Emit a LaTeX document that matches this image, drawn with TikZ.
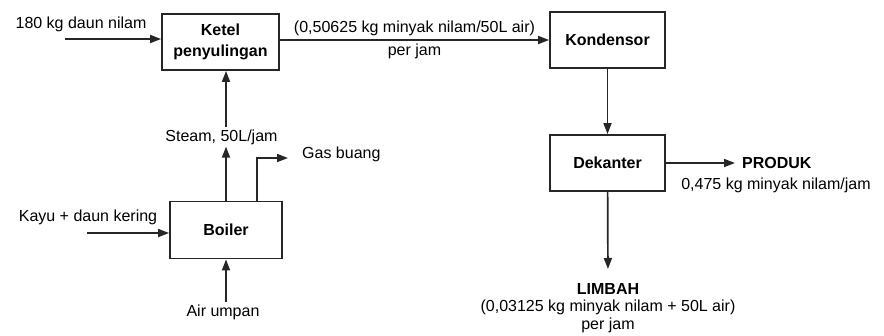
\documentclass[tikz,border=0pt]{standalone}
\usepackage{fontspec}
\setmainfont{Liberation Sans}
\usetikzlibrary{arrows.meta,positioning,calc}

\begin{document}
\begin{tikzpicture}[x=1pt,y=-1pt,font=\fontsize{16}{19}\selectfont,
  box/.style={draw=black!85,line width=1.8pt,align=center,inner sep=3pt,font=\fontsize{16}{21}\selectfont\bfseries},
  lab/.style={align=center,inner sep=2pt},
  flow/.style={->,line width=1.7pt,draw=black!85},
  >={Triangle[length=11pt,width=8pt]}]
  \useasboundingbox (0,0) rectangle (884,335);
  % units
  \node[box,minimum width=117pt,minimum height=56pt] (ketel) at (220.5,42) {Ketel\\penyulingan};
  \node[box,minimum width=115pt,minimum height=56pt] (kond) at (607.5,40) {Kondensor};
  \node[box,minimum width=115pt,minimum height=56pt] (dek) at (607.5,163) {Dekanter};
  \node[box,minimum width=112pt,minimum height=57pt] (boiler) at (226,230) {Boiler};
  % labels
  \node[lab] (daun) at (81,24) {180 kg daun nilam};
  \node[lab] (kayu) at (88,217) {Kayu + daun kering};
  \node[lab] (steam) at (221.5,137) {Steam, 50L/jam};
  \node[lab,anchor=base west] (gas) at (300,158) {Gas buang};
  \node[lab] (air) at (223,312) {Air umpan};
  \node[lab,anchor=west,font=\fontsize{16}{19}\selectfont\bfseries] (produk) at (740,163) {PRODUK};
  \node[lab] (produkq) at (776,185) {0,475 kg minyak nilam/jam};
  \node[lab,anchor=north,font=\fontsize{16}{17.5}\selectfont] (limbah) at (608,281) {\textbf{LIMBAH}\\(0,03125 kg minyak nilam + 50L air)\\per jam};
  \coordinate (daunin) at (65,39);
  \coordinate (kayuin) at (87,233);
  % streams
  \draw[flow] (daunin) -- (daunin -| ketel.west);
  \draw[flow] (ketel.east |- kond.west) -- node[above,lab,yshift=1pt]{(0,50625 kg minyak nilam/50L air)} node[below,lab,yshift=-1pt]{per jam} (kond.west);
  \draw[flow] (kond) -- (dek);
  \draw[flow,shorten >=5pt] (dek) -- (produk.west);
  \draw[flow,shorten >=12pt] (dek) -- (limbah.north);
  \draw[flow] (kayuin) -- (kayuin -| boiler.west);
  \draw[flow] (boiler.south |- air.north) -- (boiler.south);
  \draw[flow] (boiler.north) -- (boiler.north |- steam.south);
  \draw[flow] (boiler.north |- steam.north) -- (boiler.north |- ketel.south);
  \draw[flow] ([xshift=31pt]boiler.north) |- ([xshift=-12pt]gas.base west);
\end{tikzpicture}
\end{document}
